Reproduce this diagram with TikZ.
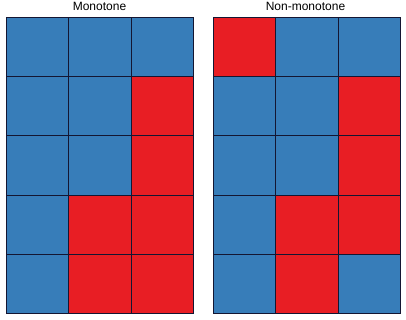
\documentclass[tikz,border=0pt]{standalone}
\usepackage{fontspec}
\setmainfont{Liberation Sans}
\usepackage{tikz}
\usetikzlibrary{positioning}
\definecolor{cellblue}{RGB}{55,125,185}
\definecolor{cellred}{RGB}{232,30,36}
\definecolor{gridline}{RGB}{20,22,50}
\tikzset{
  cell/.style={draw=gridline, line width=0.9pt, minimum width=62.3pt,
               minimum height=59.2pt, inner sep=0pt, anchor=north west},
  title/.style={font=\fontsize{12}{14}\selectfont, anchor=base},
}

\begin{document}
\begin{tikzpicture}[x=1pt,y=-1pt]
  \useasboundingbox (0,0) rectangle (406,319);

  % left grid
  \foreach \c [count=\i from 0] in {blue,blue,blue, blue,blue,red, blue,blue,red,
                                     blue,red,red, blue,red,red}{
    \pgfmathtruncatemacro\col{mod(\i,3)}
    \pgfmathtruncatemacro\row{\i/3}
    \node[cell, fill=cell\c] (L-\row-\col) at (6+62.3*\col, 17+59.2*\row) {};
  }
  % right grid
  \foreach \c [count=\i from 0] in {red,blue,blue, blue,blue,red, blue,blue,red,
                                     blue,red,red, blue,red,blue}{
    \pgfmathtruncatemacro\col{mod(\i,3)}
    \pgfmathtruncatemacro\row{\i/3}
    \node[cell, fill=cell\c] (R-\row-\col) at (213+62.3*\col, 17+59.2*\row) {};
  }

  \node[title] (ltitle) at (99.5,10.5) {Monotone};
  \node[title] (rtitle) at (305.5,10.5) {Non-monotone};
\end{tikzpicture}
\end{document}
